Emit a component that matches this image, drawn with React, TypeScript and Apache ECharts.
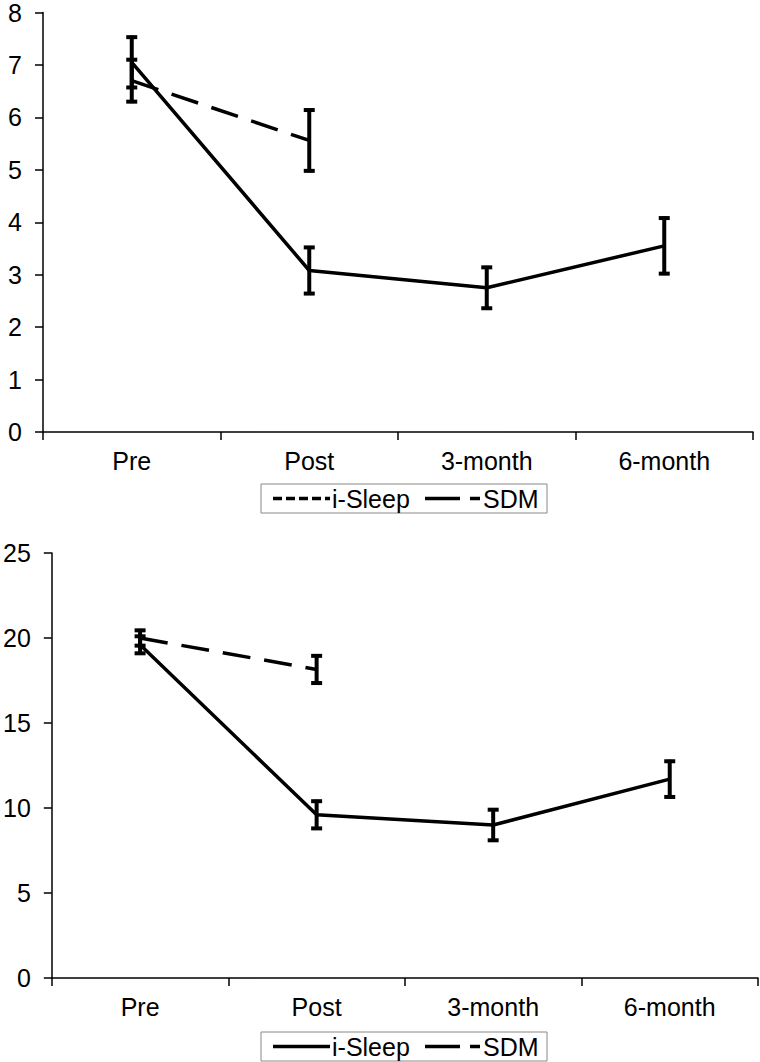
import React, { useEffect, useRef } from "react";
import * as echarts from "echarts";

const categories = ["Pre", "Post", "3-month", "6-month"];

// Top panel (0–8 scale)
const topISleep = [7.05, 3.08, 2.75, 3.55];
const topISleepErr = [0.48, 0.44, 0.39, 0.53];
const topSDM: (number | string)[] = [6.7, 5.56, "-", "-"];
const topSDMErr = [0.4, 0.58];

// Bottom panel (0–25 scale)
const botISleep = [19.6, 9.6, 9.0, 11.7];
const botISleepErr = [0.5, 0.8, 0.9, 1.05];
const botSDM: (number | string)[] = [20.0, 18.15, "-", "-"];
const botSDMErr = [0.45, 0.8];

const topTicks = { min: 0, max: 8, interval: 1 };
const botTicks = { min: 0, max: 25, interval: 5 };

const FONT = "Liberation Sans, Arial, sans-serif";

function errRows(means: (number | string)[], errs: number[]) {
  const rows: number[][] = [];
  errs.forEach((e, i) => {
    const m = means[i] as number;
    rows.push([i, m - e, m + e]);
  });
  return rows;
}

const renderErr = (params: any, api: any) => {
  const x = api.value(0);
  const lo = api.value(1);
  const hi = api.value(2);
  const p1 = api.coord([x, hi]);
  const p2 = api.coord([x, lo]);
  const w = 5.5;
  const st = { stroke: "#000", lineWidth: 4 };
  return {
    type: "group",
    children: [
      { type: "line", shape: { x1: p1[0], y1: p1[1] - 1.5, x2: p2[0], y2: p2[1] + 1.5 }, style: st },
      { type: "line", shape: { x1: p1[0] - w, y1: p1[1], x2: p1[0] + w, y2: p1[1] }, style: st },
      { type: "line", shape: { x1: p2[0] - w, y1: p2[1], x2: p2[0] + w, y2: p2[1] }, style: st },
    ],
  };
};

function xAxisCfg(gridIndex: number) {
  return {
    type: "category",
    gridIndex,
    data: categories,
    boundaryGap: true,
    axisLine: { lineStyle: { color: "#000", width: 1.5 } },
    axisTick: { show: true, length: 8, lineStyle: { color: "#000", width: 1.5 } },
    axisLabel: { color: "#000", fontSize: 25, fontFamily: FONT, margin: 16 },
    splitLine: { show: false },
  };
}

function yAxisCfg(gridIndex: number, t: { min: number; max: number; interval: number }) {
  return {
    type: "value",
    gridIndex,
    min: t.min,
    max: t.max,
    interval: t.interval,
    axisLine: { show: true, lineStyle: { color: "#000", width: 1.5 } },
    axisTick: { show: true, length: 8, lineStyle: { color: "#000", width: 1.5 } },
    axisLabel: { color: "#000", fontSize: 25, fontFamily: FONT, margin: 21 },
    splitLine: { show: false },
  };
}

function legendGraphic(top: number, iSleepDashed: boolean) {
  const cy = top + 14.5;
  return {
    type: "group",
    children: [
      {
        type: "rect",
        shape: { x: 261, y: top, width: 286, height: 29 },
        style: { fill: "#fff", stroke: "#888", lineWidth: 1 },
      },
      {
        type: "line",
        shape: { x1: 273, y1: cy, x2: 330, y2: cy },
        style: { stroke: "#000", lineWidth: 3.5, lineDash: iSleepDashed ? [9, 4] : null },
      },
      {
        type: "text",
        x: 332,
        y: cy,
        style: { text: "i-Sleep", fill: "#000", font: "25px " + FONT, textVerticalAlign: "middle", textAlign: "left" },
      },
      {
        type: "line",
        shape: { x1: 425, y1: cy, x2: 480, y2: cy },
        style: { stroke: "#000", lineWidth: 3.5, lineDash: [35, 10] },
      },
      {
        type: "text",
        x: 483,
        y: cy,
        style: { text: "SDM", fill: "#000", font: "25px " + FONT, textVerticalAlign: "middle", textAlign: "left" },
      },
    ],
  };
}

export default function App() {
  const ref = useRef<HTMLDivElement>(null);
  useEffect(() => {
    if (!ref.current) return;
    const chart = echarts.init(ref.current, undefined, { renderer: "svg" });
    const lineCommon = { symbol: "none", showSymbol: false, connectNulls: false };
    chart.setOption({
      animation: false,
      backgroundColor: "#fff",
      textStyle: { fontFamily: FONT },
      grid: [
        { left: 43, top: 10.5, width: 710, height: 421.5 },
        { left: 49, top: 553, width: 709, height: 425 },
      ],
      xAxis: [xAxisCfg(0), xAxisCfg(1)],
      yAxis: [yAxisCfg(0, topTicks), yAxisCfg(1, botTicks)],
      series: [
        {
          ...lineCommon,
          type: "line",
          name: "i-Sleep",
          xAxisIndex: 0,
          yAxisIndex: 0,
          data: topISleep,
          lineStyle: { color: "#000", width: 3.5 },
        },
        {
          ...lineCommon,
          type: "line",
          name: "SDM",
          xAxisIndex: 0,
          yAxisIndex: 0,
          data: topSDM,
          lineStyle: { color: "#000", width: 3.5, type: [28, 14] },
        },
        {
          type: "custom",
          xAxisIndex: 0,
          yAxisIndex: 0,
          renderItem: renderErr,
          data: errRows(topISleep, topISleepErr),
          z: 3,
        },
        {
          type: "custom",
          xAxisIndex: 0,
          yAxisIndex: 0,
          renderItem: renderErr,
          data: errRows(topSDM, topSDMErr),
          z: 3,
        },
        {
          ...lineCommon,
          type: "line",
          name: "i-Sleep",
          xAxisIndex: 1,
          yAxisIndex: 1,
          data: botISleep,
          lineStyle: { color: "#000", width: 3.5 },
        },
        {
          ...lineCommon,
          type: "line",
          name: "SDM",
          xAxisIndex: 1,
          yAxisIndex: 1,
          data: botSDM,
          lineStyle: { color: "#000", width: 3.5, type: [28, 14] },
        },
        {
          type: "custom",
          xAxisIndex: 1,
          yAxisIndex: 1,
          renderItem: renderErr,
          data: errRows(botISleep, botISleepErr),
          z: 3,
        },
        {
          type: "custom",
          xAxisIndex: 1,
          yAxisIndex: 1,
          renderItem: renderErr,
          data: errRows(botSDM, botSDMErr),
          z: 3,
        },
      ],
      graphic: [legendGraphic(484, true), legendGraphic(1032, false)],
    });
    return () => chart.dispose();
  }, []);
  return (
    <div
      ref={ref}
      style={{ position: "absolute", left: 0, top: 0, width: 760, height: 1062, background: "#fff" }}
    />
  );
}
